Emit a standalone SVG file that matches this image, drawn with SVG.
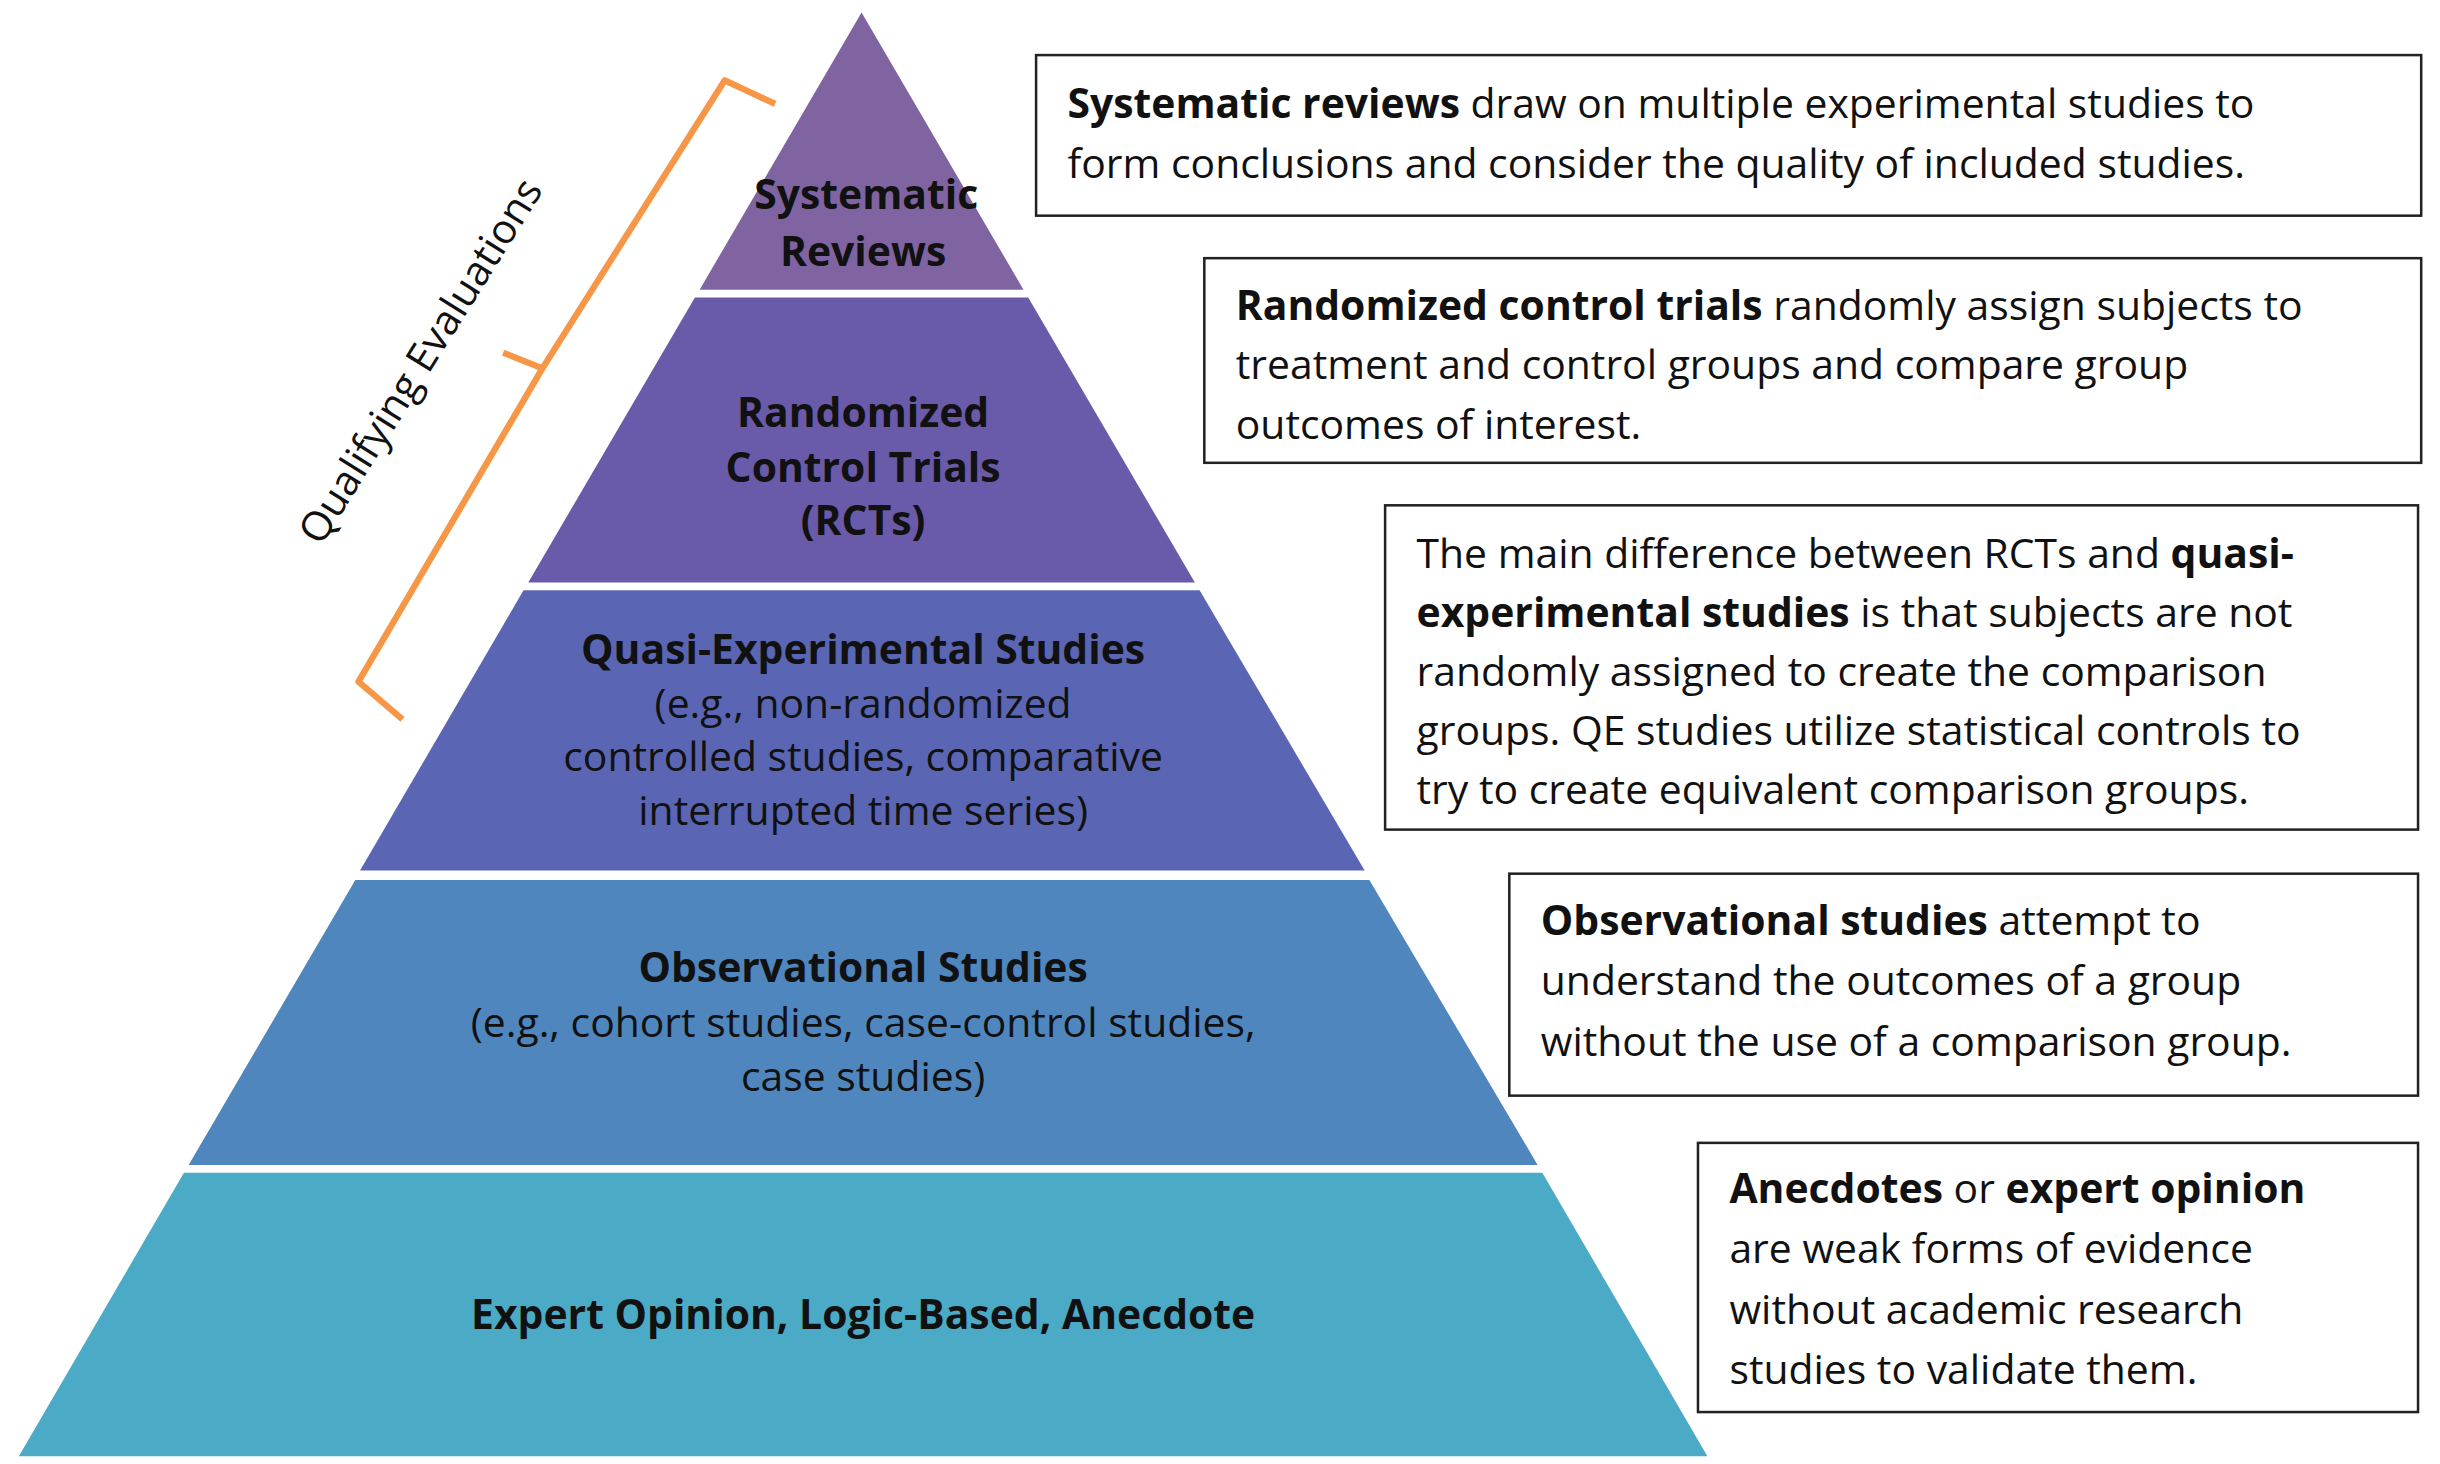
<svg xmlns="http://www.w3.org/2000/svg" width="2440" height="1464" viewBox="0 0 2440 1464">
<style>
.t{font-family:"Open Sans","Liberation Sans",sans-serif;font-size:26px;fill:#111}
.c{text-anchor:middle}
.b{font-weight:bold}
.box{fill:#fff;stroke:#222;stroke-width:1.6}
</style>
<rect width="2440" height="1464" fill="#fff"/>
<g transform="scale(1.5722,1.5742)">
<g id="tier1"><polygon points="548,8 651,184 445,184" fill="#8064a2"/>
<text class="t c b" x="551" y="133">Systematic</text><text class="t c b" x="549" y="169">Reviews</text></g>
<g id="tier2"><polygon points="442,189 654,189 760,370 336,370" fill="#6a5aaa"/>
<text class="t c b" x="549" y="271">Randomized</text><text class="t c b" x="549" y="306">Control Trials</text><text class="t c b" x="549" y="340">(RCTs)</text></g>
<g id="tier3"><polygon points="333,375 763,375 868,553 229,553" fill="#5a66b4"/>
<text class="t c b" x="549" y="422">Quasi-Experimental Studies</text><text class="t c" x="549" y="456">(e.g., non-randomized</text><text class="t c" x="549" y="490">controlled studies, comparative</text><text class="t c" x="549" y="524">interrupted time series)</text></g>
<g id="tier4"><polygon points="226,559 871,559 978,740 120,740" fill="#4f86be"/>
<text class="t c b" x="549" y="624">Observational Studies</text><text class="t c" x="549" y="659">(e.g., cohort studies, case-control studies,</text><text class="t c" x="549" y="693">case studies)</text></g>
<g id="tier5"><polygon points="117,745 981,745 1086,925 12,925" fill="#4baac6"/>
<text class="t c b" x="549" y="844">Expert Opinion, Logic-Based, Anecdote</text></g>
<g id="bracket"><path d="M493,66 L461,51 L345,234 L320,224 M345,234 L228,433 L256,457" fill="none" stroke="#f79646" stroke-width="4" stroke-linejoin="round"/>
<text class="t c" transform="translate(275,234) rotate(-58)">Qualifying Evaluations</text></g>
<g id="box1"><rect class="box" x="659" y="35" width="881" height="102"/>
<text class="t" x="679" y="75"><tspan class="b">Systematic reviews</tspan> draw on multiple experimental studies to</text>
<text class="t" x="679" y="113">form conclusions and consider the quality of included studies.</text></g>
<g id="box2"><rect class="box" x="766" y="164" width="774" height="130"/>
<text class="t" x="786" y="203"><tspan class="b">Randomized control trials</tspan> randomly assign subjects to</text>
<text class="t" x="786" y="241">treatment and control groups and compare group</text>
<text class="t" x="786" y="279">outcomes of interest.</text></g>
<g id="box3"><rect class="box" x="881" y="321" width="657" height="206"/>
<text class="t" x="901" y="361">The main difference between RCTs and <tspan class="b">quasi-</tspan></text>
<text class="t" x="901" y="398"><tspan class="b">experimental studies</tspan> is that subjects are not</text>
<text class="t" x="901" y="436">randomly assigned to create the comparison</text>
<text class="t" x="901" y="473">groups. QE studies utilize statistical controls to</text>
<text class="t" x="901" y="511">try to create equivalent comparison groups.</text></g>
<g id="box4"><rect class="box" x="960" y="555" width="578" height="141"/>
<text class="t" x="980" y="594"><tspan class="b">Observational studies</tspan> attempt to</text>
<text class="t" x="980" y="632">understand the outcomes of a group</text>
<text class="t" x="980" y="671">without the use of a comparison group.</text></g>
<g id="box5"><rect class="box" x="1080" y="726" width="458" height="171"/>
<text class="t" x="1100" y="764"><tspan class="b">Anecdotes</tspan> or <tspan class="b">expert opinion</tspan></text>
<text class="t" x="1100" y="802">are weak forms of evidence</text>
<text class="t" x="1100" y="841">without academic research</text>
<text class="t" x="1100" y="879">studies to validate them.</text></g>
</g>
</svg>
